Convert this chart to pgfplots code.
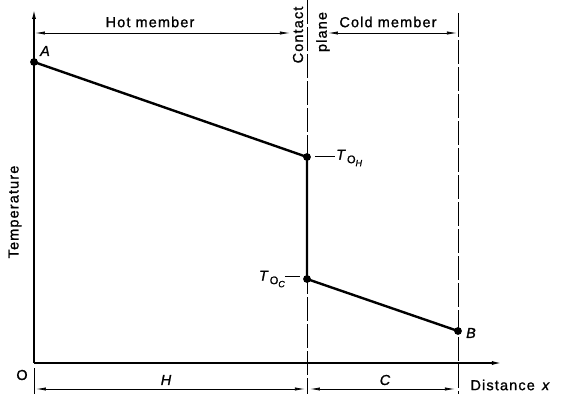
\documentclass[border=0pt]{standalone}
\usepackage{pgfplots}
\pgfplotsset{compat=1.18}
\usepackage{fontspec}
\setmainfont{Liberation Sans}[LetterSpace=8, FakeBold=1.2]
\usetikzlibrary{arrows.meta}

% temperature profile across the hot member, the contact plane and the cold member
\newcommand{\sub}[1]{\raisebox{-0.45ex}{\fontsize{11}{11}\selectfont #1}}
\newcommand{\subsub}[1]{\raisebox{-0.85ex}{\fontsize{9}{9}\selectfont\itshape #1}}

\begin{document}
\begin{tikzpicture}[
  lbl/.style={font=\fontsize{14.5}{16}\selectfont},
  ilbl/.style={font=\fontsize{14.5}{16}\selectfont\itshape},
  dim/.style={line width=0.7bp, {Latex[length=10bp,width=3.2bp]}-{Latex[length=10bp,width=3.2bp]}},
  plane/.style={line width=0.9bp, dash pattern=on 24bp off 3bp}]
\useasboundingbox (-34bp,-31bp) rectangle (527bp,363bp);
\begin{axis}[
  anchor=origin, at={(0,0)},
  x=1bp, y=1bp,
  xmin=0, xmax=469, ymin=0, ymax=355,
  axis lines=left,
  ticks=none,
  clip=false,
  axis line style={line width=1.7bp, -{Latex[length=11bp,width=4bp]}},
]
% contact plane and outer face of the cold member
\draw[plane] (axis cs:273,363) -- (axis cs:273,-31);
\draw[plane] (axis cs:424,350) -- (axis cs:424,-31);
\draw[line width=0.9bp] (axis cs:0,-5) -- (axis cs:0,-31);

% temperature distribution
\addplot[line width=2.4bp, mark=*, mark size=2.6bp, mark options={solid}]
  coordinates {(0,301) (273,206) (273,84) (424,32)};

% dimension lines
\draw[dim] (axis cs:1,330) -- (axis cs:256,330);
\draw[dim] (axis cs:294,330) -- (axis cs:423,330);
\draw[dim] (axis cs:2,-26) -- (axis cs:271,-26);
\draw[dim] (axis cs:276,-26) -- (axis cs:421,-26);

% labels
\node[lbl] at (axis cs:116,341) {Hot member};
\node[lbl] at (axis cs:354,341) {Cold member};
\node[lbl, rotate=90] at (axis cs:264,328) {Contact};
\node[lbl, rotate=90] at (axis cs:289,331) {plane};
\node[ilbl] at (axis cs:11,312) {A};
\node[ilbl] at (axis cs:437,30) {B};
\node[lbl] at (axis cs:-12,-12) {O};
\node[ilbl] at (axis cs:132,-17) {H};
\node[ilbl] at (axis cs:351,-17) {C};
\node[lbl, anchor=west] at (axis cs:433,-22) {Distance\hspace{0.5em}\textit{x}};
\node[lbl, rotate=90] at (axis cs:-19,151) {Temperature};

\draw[line width=0.6bp] (axis cs:281,207) -- (axis cs:301,207);
\node[lbl, anchor=west, inner sep=0pt] at (axis cs:302,205) {\textit{T}\sub{O}\subsub{H}};
\draw[line width=0.6bp] (axis cs:251,87) -- (axis cs:266,87);
\node[lbl, anchor=east, inner sep=0pt] at (axis cs:251,84) {\textit{T}\sub{O}\subsub{C}};
\end{axis}
\end{tikzpicture}
\end{document}
